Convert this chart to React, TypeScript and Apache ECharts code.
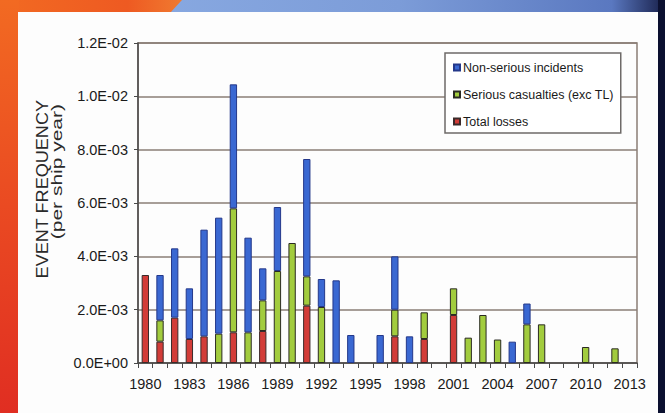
import React, { useEffect, useRef } from "react";
import * as echarts from "echarts";

const years: string[] = [
  "1980", "1981", "1982", "1983", "1984", "1985", "1986", "1987", "1988", "1989",
  "1990", "1991", "1992", "1993", "1994", "1995", "1996", "1997", "1998", "1999",
  "2000", "2001", "2002", "2003", "2004", "2005", "2006", "2007", "2008", "2009",
  "2010", "2011", "2012", "2013",
];

// Total losses (red, bottom of stack)
const totalLosses: (number | null)[] = [
  0.0033, 0.0008, 0.0017, 0.0009, 0.001, null, 0.00115, null, 0.0012, null,
  null, 0.00215, null, null, null, null, null, 0.001, null, 0.0009,
  null, 0.0018, null, null, null, null, null, null, null, null,
  null, null, null, null,
];

// Serious casualties (exc TL) (green, middle)
const seriousCasualties: (number | null)[] = [
  null, 0.0008, null, null, null, 0.0011, 0.00465, 0.00115, 0.00115, 0.00345,
  0.0045, 0.0011, 0.0021, null, null, null, null, 0.001, null, 0.001,
  null, 0.001, 0.00095, 0.0018, 0.00088, null, 0.00145, 0.00145, null, null,
  0.0006, null, 0.00055, null,
];

// Non-serious incidents (blue, top)
const nonSerious: (number | null)[] = [
  null, 0.0017, 0.0026, 0.0019, 0.004, 0.00435, 0.00465, 0.00355, 0.0012, 0.0024,
  null, 0.0044, 0.00105, 0.0031, 0.00105, null, 0.00105, 0.002, 0.001, null,
  null, null, null, null, null, 0.0008, 0.00078, null, null, null,
  null, null, null, null,
];

const seriesNames = ["Non-serious incidents", "Serious casualties (exc TL)", "Total losses"];

const yMin = 0;
const yMax = 0.012;
const yInterval = 0.002;

const FONT = "'Liberation Sans', Arial, sans-serif";

function fmtExp(v: number): string {
  if (v === 0) return "0.0E+00";
  let e = Math.floor(Math.log10(Math.abs(v)) + 1e-9);
  let m = v / Math.pow(10, e);
  if (Math.round(m * 10) / 10 >= 10) {
    e += 1;
    m = v / Math.pow(10, e);
  }
  const sign = e < 0 ? "-" : "+";
  const ae = Math.abs(e);
  return m.toFixed(1) + "E" + sign + (ae < 10 ? "0" + ae : String(ae));
}

export default function App() {
  const ref = useRef<HTMLDivElement>(null);

  useEffect(() => {
    if (!ref.current) return;
    const chart = echarts.init(ref.current, undefined, { renderer: "svg" });
    const gridColor = "#8a7e76";
    const option: any = {
      animation: false,
      backgroundColor: "#ffffff",
      graphic: [
        {
          type: "rect",
          z: -100,
          silent: true,
          shape: { x: 0, y: 0, width: 665, height: 413 },
          style: {
            fill: new echarts.graphic.LinearGradient(0, 0, 1, 0, [
              { offset: 0, color: "#8fb0e6" },
              { offset: 0.6, color: "#7c9cd8" },
              { offset: 0.92, color: "#5a78c0" },
              { offset: 1, color: "#18204a" },
            ]),
          },
        },
        {
          type: "polygon",
          z: -99,
          silent: true,
          shape: { points: [[0, 0], [182, 0], [170, 13], [0, 13]] },
          style: {
            fill: new echarts.graphic.LinearGradient(0, 0, 1, 0, [
              { offset: 0, color: "#f26a22" },
              { offset: 0.7, color: "#ee5a22" },
              { offset: 1, color: "#f07a30" },
            ]),
          },
        },
        {
          type: "rect",
          z: -99,
          silent: true,
          shape: { x: 0, y: 0, width: 19, height: 413 },
          style: {
            fill: new echarts.graphic.LinearGradient(0, 0, 0, 1, [
              { offset: 0, color: "#f26a22" },
              { offset: 0.5, color: "#ea4a22" },
              { offset: 1, color: "#e02e22" },
            ]),
          },
        },
        {
          type: "rect",
          z: -99,
          silent: true,
          shape: { x: 658, y: 0, width: 7, height: 413 },
          style: { fill: "#0b1030" },
        },
        {
          type: "rect",
          z: -98,
          silent: true,
          shape: { x: 18, y: 12, width: 640, height: 401 },
          style: { fill: "#fdfdfd" },
        },
        {
          type: "text",
          z: 10,
          x: 43,
          y: 100,
          rotation: Math.PI / 2,
          scaleX: 1.13,
          style: {
            text: "EVENT FREQUENCY",
            font: "16px " + FONT,
            fill: "#2a2a2a",
            align: "right",
            verticalAlign: "middle",
          },
        },
        {
          type: "text",
          z: 10,
          x: 57,
          y: 104,
          rotation: Math.PI / 2,
          scaleX: 1.5,
          style: {
            text: "(per ship year)",
            font: "14px " + FONT,
            fill: "#2a2a2a",
            align: "right",
            verticalAlign: "middle",
          },
        },
      ],
      grid: {
        left: 138,
        right: 28,
        top: 43,
        bottom: 50,
        show: true,
        borderColor: gridColor,
        borderWidth: 1.5,
        backgroundColor: "transparent",
      },
      legend: {
        data: seriesNames,
        orient: "vertical",
        left: 445,
        top: 53,
        padding: [8, 7, 5, 8],
        itemGap: 14,
        itemWidth: 6,
        itemHeight: 6,
        backgroundColor: "#ffffff",
        borderColor: "#6e6a68",
        borderWidth: 1.5,
        icon: "rect",
        textStyle: { fontFamily: FONT, fontSize: 12.5, color: "#1a1a1a", padding: [0, 0, 0, -2] },
      },
      xAxis: {
        type: "category",
        data: years,
        axisLine: { lineStyle: { color: "#4a4a4a", width: 1.5 } },
        axisTick: { show: true, interval: 0, length: 5, lineStyle: { color: "#4a4a4a" } },
        axisLabel: {
          interval: 2,
          fontFamily: FONT,
          fontSize: 14.5,
          color: "#1a1a1a",
          margin: 13,
        },
        splitLine: { show: false },
      },
      yAxis: {
        type: "value",
        min: yMin,
        max: yMax,
        interval: yInterval,
        axisLine: { show: true, lineStyle: { color: "#4a4a4a", width: 1.5 } },
        axisTick: { show: true, length: 4, lineStyle: { color: "#4a4a4a" } },
        axisLabel: {
          fontFamily: FONT,
          fontSize: 14.5,
          color: "#1a1a1a",
          margin: 10,
          formatter: (v: number) => fmtExp(v),
        },
        splitLine: { show: true, lineStyle: { color: gridColor, width: 1.5 } },
      },
      series: [
        {
          name: "Total losses",
          type: "bar",
          stack: "all",
          barWidth: "50%",
          data: totalLosses,
          itemStyle: { color: "#d23c38", borderColor: "#3a2a2a", borderWidth: 1 },
        },
        {
          name: "Serious casualties (exc TL)",
          type: "bar",
          stack: "all",
          barWidth: "50%",
          data: seriousCasualties,
          itemStyle: { color: "#a2cc3e", borderColor: "#2a2a22", borderWidth: 1 },
        },
        {
          name: "Non-serious incidents",
          type: "bar",
          stack: "all",
          barWidth: "50%",
          data: nonSerious,
          itemStyle: { color: "#3a68d2", borderColor: "#24388a", borderWidth: 1 },
        },
      ],
    };
    chart.setOption(option);
    return () => chart.dispose();
  }, []);

  return (
    <div
      ref={ref}
      style={{ position: "fixed", left: 0, top: 0, width: 665, height: 413 }}
    />
  );
}
